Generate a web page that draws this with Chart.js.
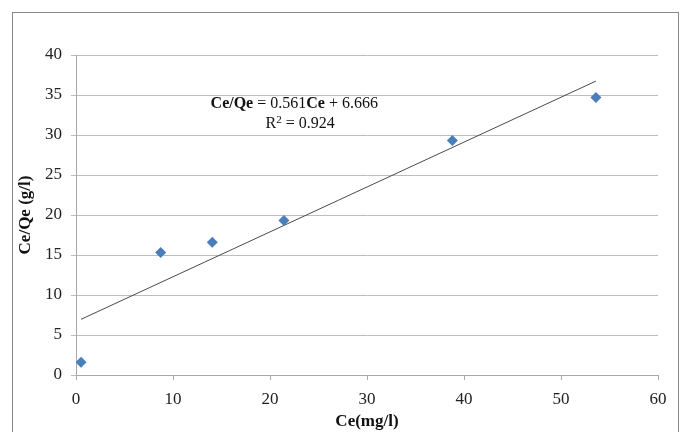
<!DOCTYPE html>
<html>
<head>
<meta charset="utf-8">
<script src="https://cdn.jsdelivr.net/npm/chart.js@4.4.0/dist/chart.umd.min.js"></script>
<style>
  html, body { margin: 0; padding: 0; background: #fff; }
  #wrap { position: relative; width: 684px; height: 432px; }
</style>
</head>
<body>
<div id="wrap"><canvas id="c" width="684" height="432"></canvas></div>
<script>
// Data
const ceValues   = [0.52, 8.73, 14.05, 21.44, 38.8, 53.6];   // Ce (mg/l)
const ceQeValues = [1.6, 15.3, 16.6, 19.3, 29.3, 34.7];      // Ce/Qe (g/l)
const trendX = [0.52, 53.6];                                  // trendline ends (x)
const trendY = [6.96, 36.74];                                 // trendline ends (y)
const xTickValues = [0, 10, 20, 30, 40, 50, 60];
const yTickValues = [0, 5, 10, 15, 20, 25, 30, 35, 40];
const xTitle = 'Ce(mg/l)';
const yTitle = 'Ce/Qe (g/l)';
const eqLabel = { x: 22.5, y: 33.9 };
const r2Label = { x: 23.1, y: 31.4 };

const SERIF = "'Liberation Serif', 'Times New Roman', serif";

const points = ceValues.map((x, i) => ({ x: x, y: ceQeValues[i] }));
const trend = trendX.map((x, i) => ({ x: x, y: trendY[i] }));

const frame = {
  id: 'frame',
  beforeDraw(chart) {
    const ctx = chart.ctx;
    ctx.save();
    ctx.strokeStyle = '#8a8a8a';
    ctx.lineWidth = 1;
    ctx.strokeRect(12.5, 12.5, 666, 440);
    ctx.restore();
  }
};

function drawRuns(ctx, runs, cx, cy) {
  let total = 0;
  runs.forEach(r => { ctx.font = r.font; r.w = ctx.measureText(r.t).width; total += r.w; });
  let x = cx - total / 2;
  runs.forEach(r => {
    ctx.font = r.font;
    ctx.fillText(r.t, x, cy + (r.dy || 0));
    x += r.w;
  });
}

const equation = {
  id: 'equation',
  afterDatasetsDraw(chart) {
    const ctx = chart.ctx;
    const xs = chart.scales.x, ys = chart.scales.y;
    ctx.save();
    ctx.fillStyle = '#111';
    ctx.textBaseline = 'middle';
    ctx.textAlign = 'left';
    const b = 'bold 16px ' + SERIF, n = '16px ' + SERIF, s = '11px ' + SERIF;
    drawRuns(ctx, [
      { t: 'Ce/Qe', font: b },
      { t: ' = 0.561', font: n },
      { t: 'Ce', font: b },
      { t: ' + 6.666', font: n }
    ], xs.getPixelForValue(eqLabel.x), ys.getPixelForValue(eqLabel.y));
    drawRuns(ctx, [
      { t: 'R', font: n },
      { t: '2', font: s, dy: -4 },
      { t: ' = 0.924', font: n }
    ], xs.getPixelForValue(r2Label.x), ys.getPixelForValue(r2Label.y));
    ctx.restore();
  }
};

new Chart(document.getElementById('c'), {
  type: 'scatter',
  data: {
    datasets: [
      {
        label: 'Ce/Qe',
        data: points,
        pointStyle: 'rectRot',
        pointRadius: 5.5,
        pointHoverRadius: 5.5,
        backgroundColor: '#4a7ebb',
        borderColor: '#4a7ebb',
        borderWidth: 0,
        order: 1
      },
      {
        type: 'line',
        label: 'Linear',
        data: trend,
        showLine: true,
        borderColor: '#4a4a4a',
        borderWidth: 1,
        pointRadius: 0,
        fill: false,
        order: 2
      }
    ]
  },
  options: {
    responsive: false,
    animation: false,
    devicePixelRatio: 1,
    layout: { padding: { left: 0, right: 26, top: 55, bottom: 0 } },
    plugins: { legend: { display: false }, tooltip: { enabled: false } },
    scales: {
      x: {
        type: 'linear',
        min: 0, max: 60,
        afterFit(scale) { scale.height = 57; },
        afterBuildTicks(scale) { scale.ticks = xTickValues.map(v => ({ value: v })); },
        grid: { drawOnChartArea: false, drawTicks: true, tickLength: 5, color: '#a8a8a8' },
        border: { display: true, color: '#a8a8a8', width: 1 },
        ticks: { color: '#222', font: { family: SERIF, size: 17 }, padding: 9, maxRotation: 0 },
        title: { display: true, text: xTitle, color: '#111', font: { family: SERIF, size: 17, weight: 'bold' }, padding: { top: 0, bottom: 0 } }
      },
      y: {
        type: 'linear',
        min: 0, max: 40,
        afterFit(scale) { scale.width = 76; },
        afterBuildTicks(scale) { scale.ticks = yTickValues.map(v => ({ value: v })); },
        grid: { drawOnChartArea: true, drawTicks: true, tickLength: 5, color: '#bdbdbd' },
        border: { display: true, color: '#a8a8a8', width: 1 },
        ticks: { color: '#222', font: { family: SERIF, size: 17 }, padding: 9 },
        title: { display: true, text: yTitle, color: '#111', font: { family: SERIF, size: 17, weight: 'bold' }, padding: { top: 15, bottom: 0 } }
      }
    }
  },
  plugins: [frame, equation]
});
</script>
</body>
</html>
